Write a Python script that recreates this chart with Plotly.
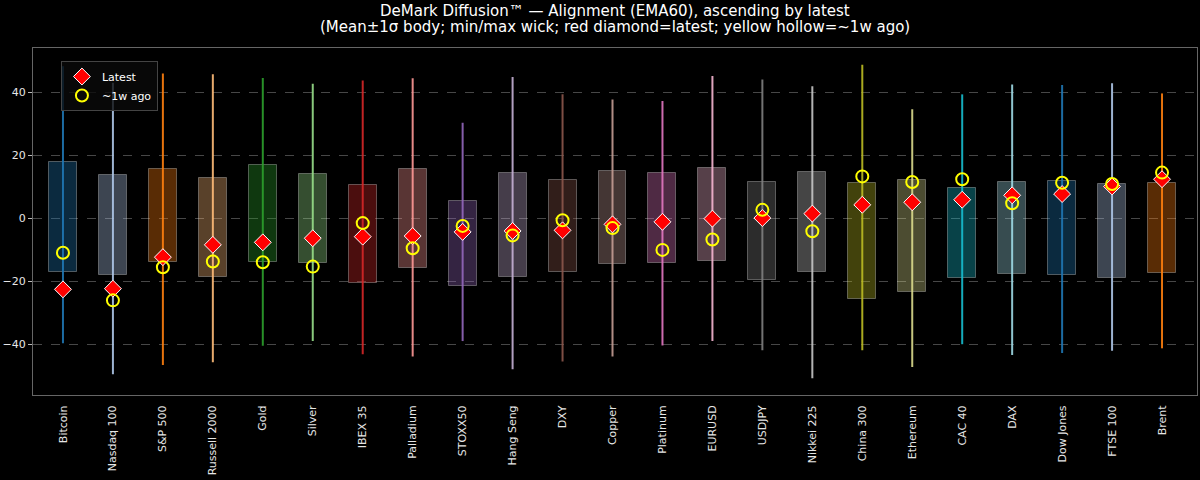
import plotly.graph_objects as go

# DeMark diffusion alignment per market, ordered ascending by the latest value
markets = ["Bitcoin", "Nasdaq 100", "S&P 500", "Russell 2000", "Gold", "Silver",
           "IBEX 35", "Palladium", "STOXX50", "Hang Seng", "DXY", "Copper",
           "Platinum", "EURUSD", "USDJPY", "Nikkei 225", "China 300", "Ethereum",
           "CAC 40", "DAX", "Dow Jones", "FTSE 100", "Brent"]

body_hi = [18.0, 13.7, 15.6, 12.9, 16.9, 14.2, 10.7, 15.8, 5.5, 14.3, 12.2, 14.9,
           14.5, 15.9, 11.4, 14.6, 11.2, 12.2, 9.6, 11.5, 11.7, 10.8, 11.1]
body_lo = [-17.1, -17.9, -13.9, -18.7, -13.7, -14.3, -20.5, -15.8, -21.3, -18.6, -16.9, -14.4,
           -14.3, -13.6, -19.4, -16.9, -25.5, -23.4, -18.9, -17.7, -17.8, -18.8, -17.2]
wick_max = [48.2, 43.0, 45.9, 45.7, 44.5, 42.7, 43.7, 44.4, 30.3, 44.8, 39.3, 37.7,
            37.2, 45.1, 44.0, 41.9, 48.7, 34.6, 39.3, 42.4, 42.3, 42.8, 39.6]
wick_min = [-39.6, -49.4, -46.5, -45.6, -40.4, -38.9, -43.1, -43.8, -38.9, -47.8, -45.4, -43.8,
            -40.3, -38.9, -41.8, -50.7, -41.8, -47.1, -39.9, -43.3, -42.7, -42.0, -41.2]
latest = [-22.5, -22.3, -12.3, -8.4, -7.6, -6.3, -5.8, -5.6, -4.3, -4.0, -3.8, -1.9,
          -1.1, -0.1, 0.1, 1.5, 4.3, 5.1, 5.9, 7.3, 7.7, 10.1, 12.4]
week_ago = [-10.9, -26.0, -15.5, -13.7, -13.9, -15.3, -1.5, -9.5, -2.4, -5.4, -0.6, -3.1,
            -10.0, -6.7, 2.7, -4.1, 13.3, 11.5, 12.4, 4.8, 11.3, 10.9, 14.5]

# matplotlib tab20, cycled
tab20 = ["#1f77b4", "#aec7e8", "#ff7f0e", "#ffbb78", "#2ca02c", "#98df8a", "#d62728",
         "#ff9896", "#9467bd", "#c5b0d5", "#8c564b", "#c49c94", "#e377c2", "#f7b6d2",
         "#7f7f7f", "#c7c7c7", "#bcbd22", "#dbdb8d", "#17becf", "#9edae5"]
colors = [tab20[i % len(tab20)] for i in range(len(markets))]


def rgba(hex_color, a):
    h = hex_color.lstrip("#")
    r, g, b = int(h[0:2], 16), int(h[2:4], 16), int(h[4:6], 16)
    return f"rgba({r},{g},{b},{a})"


idx = list(range(len(markets)))
fig = go.Figure()

# mean +/- 1 sigma body
fig.add_trace(go.Bar(
    x=idx, y=[h - l for h, l in zip(body_hi, body_lo)], base=body_lo,
    width=0.56,
    marker=dict(color=[rgba(c, 0.35) for c in colors],
                line=dict(color="rgba(255,255,255,0.3)", width=1)),
    showlegend=False, hoverinfo="skip",
))

# min/max wicks
for i in idx:
    fig.add_trace(go.Scatter(
        x=[i, i], y=[wick_min[i], wick_max[i]], mode="lines",
        line=dict(color=rgba(colors[i], 0.9), width=2),
        showlegend=False, hoverinfo="skip",
    ))

fig.add_trace(go.Scatter(
    x=idx, y=latest, mode="markers", name="Latest",
    marker=dict(symbol="diamond", size=13, color="red",
                line=dict(color="white", width=1)),
))
fig.add_trace(go.Scatter(
    x=idx, y=week_ago, mode="markers", name="~1w ago",
    marker=dict(symbol="circle-open", size=12, color="yellow",
                line=dict(width=2)),
))

axis_font = dict(family="DejaVu Sans", size=11, color="#e6e6e6")
title_font = dict(family="DejaVu Sans", size=15, color="white")

fig.update_layout(
    width=1200, height=480,
    paper_bgcolor="black", plot_bgcolor="black",
    margin=dict(l=33, r=3, t=48, b=85),
    font=dict(family="DejaVu Sans", color="white"),
    xaxis=dict(
        range=[-0.6, 22.7], tickmode="array", tickvals=idx, ticktext=markets,
        tickangle=-90, tickfont=axis_font, showgrid=False, zeroline=False,
        showline=True, mirror=True, linecolor="#666", linewidth=1,
        ticks="outside", ticklen=5, tickcolor="rgba(0,0,0,0)", automargin=False,
    ),
    yaxis=dict(
        range=[-56, 54], tickmode="array", tickvals=[-40, -20, 0, 20, 40],
        ticktext=["−40", "−20", "0", "20", "40"], tickfont=axis_font,
        showgrid=True, gridcolor="rgba(255,255,255,0.28)", griddash="dash", gridwidth=1,
        zeroline=False, showline=True, mirror=True, linecolor="#666", linewidth=1,
        ticks="outside", ticklen=4, tickcolor="#bbb", automargin=False,
    ),
    legend=dict(
        x=0.024, y=0.9625, xanchor="left", yanchor="top",
        bgcolor="rgba(10,10,10,0.8)", bordercolor="#444", borderwidth=1,
        font=dict(family="DejaVu Sans", size=11, color="white"),
        itemwidth=30, tracegroupgap=0,
    ),
    bargap=0,
    annotations=[
        dict(text="DeMark Diffusion™ — Alignment (EMA60), ascending by latest",
             xref="paper", yref="paper", x=0.5, y=1.108,
             xanchor="center", yanchor="middle", showarrow=False, font=title_font),
        dict(text="(Mean±1σ body; min/max wick; red diamond=latest; yellow hollow=~1w ago)",
             xref="paper", yref="paper", x=0.5, y=1.0605,
             xanchor="center", yanchor="middle", showarrow=False, font=title_font),
    ],
)

fig.write_html("out.html", config={"displayModeBar": False},
               post_script="document.body.style.margin='0';"
                           "document.body.style.background='black';")
